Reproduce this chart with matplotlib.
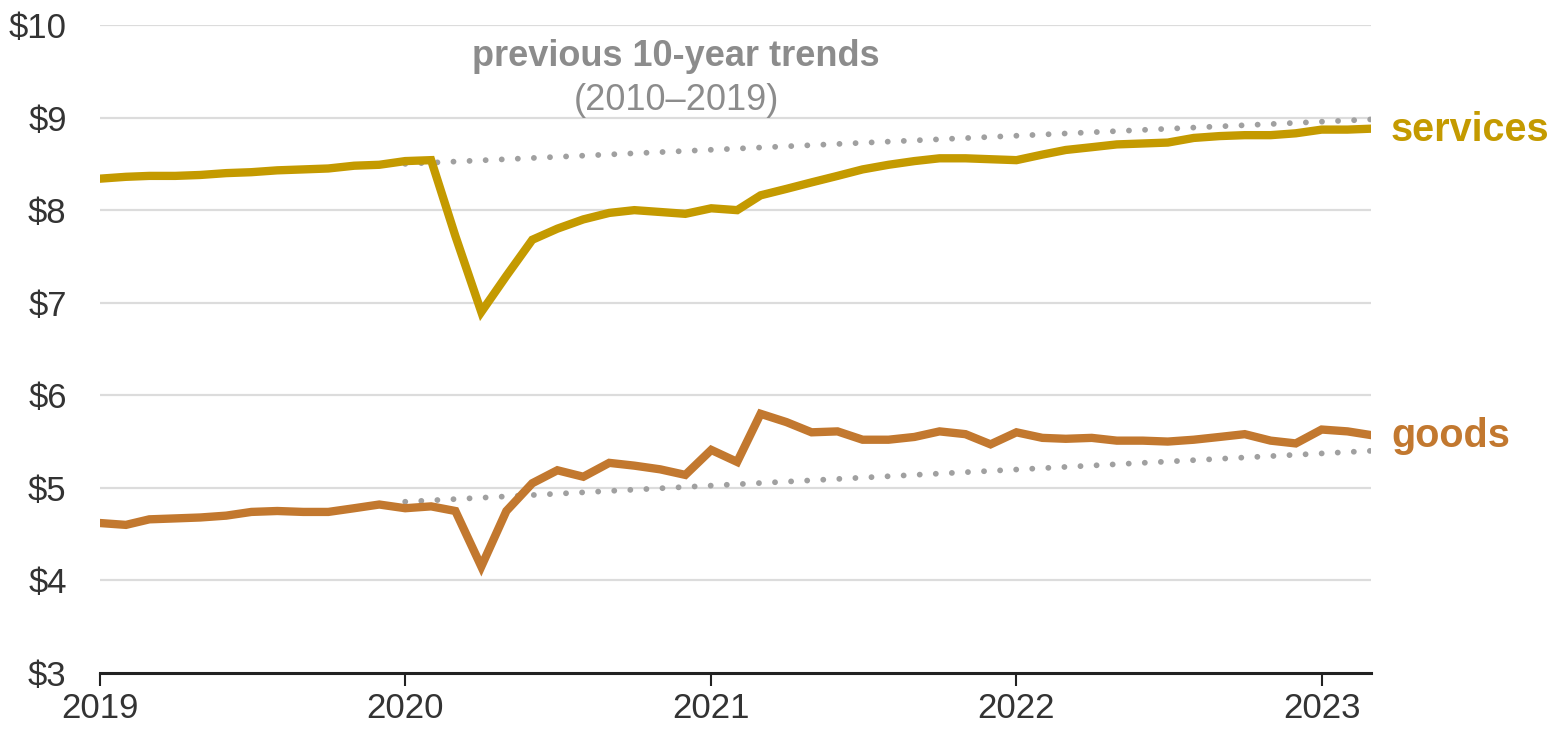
import matplotlib
matplotlib.use("Agg")
import matplotlib.pyplot as plt
import numpy as np
import pandas as pd

plt.rcParams['font.family'] = ['Liberation Sans', 'DejaVu Sans']

months = pd.date_range("2019-01-01", "2023-03-01", freq="MS")

services = [8.34, 8.36, 8.37, 8.37, 8.38, 8.40, 8.41, 8.43, 8.44, 8.45, 8.48, 8.49,
            8.53, 8.54, 7.72, 6.90, 7.29, 7.68, 7.80, 7.90, 7.97, 8.00, 7.98, 7.96,
            8.02, 8.00, 8.16, 8.23, 8.30, 8.37, 8.44, 8.49, 8.53, 8.56, 8.56, 8.55,
            8.54, 8.60, 8.65, 8.68, 8.71, 8.72, 8.73, 8.78, 8.80, 8.81, 8.81, 8.83,
            8.87, 8.87, 8.88]

goods = [4.62, 4.60, 4.66, 4.67, 4.68, 4.70, 4.74, 4.75, 4.74, 4.74, 4.78, 4.82,
         4.78, 4.80, 4.75, 4.15, 4.75, 5.05, 5.19, 5.12, 5.27, 5.24, 5.20, 5.14,
         5.41, 5.28, 5.80, 5.71, 5.60, 5.61, 5.52, 5.52, 5.55, 5.61, 5.58, 5.47,
         5.60, 5.54, 5.53, 5.54, 5.51, 5.51, 5.50, 5.52, 5.55, 5.58, 5.51, 5.48,
         5.63, 5.61, 5.57]

trend_dates = pd.to_datetime(["2020-01-01", "2023-03-01"])
services_trend = [8.50, 8.98]
goods_trend = [4.85, 5.40]

year_ticks = pd.to_datetime(["2019-01-01", "2020-01-01", "2021-01-01", "2022-01-01", "2023-01-01"])
year_labels = ["2019", "2020", "2021", "2022", "2023"]
y_ticks = [3, 4, 5, 6, 7, 8, 9, 10]
y_labels = ["$3", "$4", "$5", "$6", "$7", "$8", "$9", "$10"]

SERV_C = "#C49A00"
GOOD_C = "#C2782F"
TREND_C = "#A0A0A0"
TEXT_C = "#333333"

fig = plt.figure(figsize=(15.52, 7.32), dpi=100)
ax = fig.add_axes([100/1552, 1 - 673/732, (1371 - 100)/1552, (673 - 25)/732])

ax.set_xlim(months[0], months[-1])
ax.set_ylim(3, 10)

for v in y_ticks[1:]:
    ax.axhline(v, color="#DCDCDC", lw=1.6, zorder=0)

for tr in (services_trend, goods_trend):
    ax.plot(trend_dates, tr, color=TREND_C, lw=4.2,
            linestyle=(0, (0.01, 2.75)), dash_capstyle='round', zorder=1)

ax.plot(months, services, color=SERV_C, lw=6, solid_joinstyle='miter', zorder=3)
ax.plot(months, goods, color=GOOD_C, lw=6, solid_joinstyle='miter', zorder=3)

ax.set_xticks(year_ticks)
ax.set_xticklabels(year_labels)
ax.set_yticks(y_ticks)
ax.set_yticklabels(y_labels)

ax.tick_params(axis='x', length=9, width=1.5, color='#222222', labelsize=25,
               labelcolor=TEXT_C, pad=5, direction='out')
ax.tick_params(axis='y', length=0, labelsize=25, labelcolor=TEXT_C, pad=24)

for s in ['top', 'right', 'left']:
    ax.spines[s].set_visible(False)
ax.spines['bottom'].set_color('#222222')
ax.spines['bottom'].set_linewidth(2.2)
ax.spines['bottom'].set_zorder(4)

fig.text(676/1552, 1 - 57/732, "previous 10-year trends", ha='center', va='center',
         fontsize=26, fontweight='bold', color='#8C8C8C')
fig.text(676/1552, 1 - 100/732, "(2010\u20132019)", ha='center', va='center',
         fontsize=26, color='#8C8C8C')

fig.text(1391/1552, 1 - 130/732, "services", ha='left', va='center',
         fontsize=28.5, fontweight='bold', color=SERV_C)
fig.text(1391/1552, 1 - 436/732, "goods", ha='left', va='center',
         fontsize=28.5, fontweight='bold', color=GOOD_C)

fig.savefig("out.png", dpi=100)
